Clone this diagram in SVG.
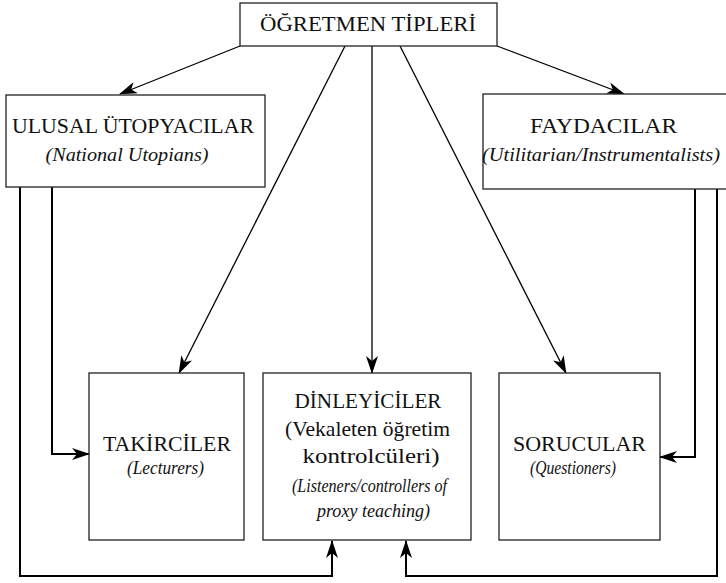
<svg xmlns="http://www.w3.org/2000/svg" width="726" height="583" viewBox="0 0 726 583">
<defs>
<style>
.box{fill:#fff;stroke:#222;stroke-width:1.3}
.t{font-size:22px;fill:#111;text-anchor:middle}
.i{font-size:19px;font-style:italic;fill:#111;text-anchor:middle}
.c{fill:none;stroke:#000;stroke-width:1.3}
.cb{fill:none;stroke:#000;stroke-width:2}
</style>
<marker id="ah" viewBox="0 0 18 12" refX="17" refY="6" markerWidth="18" markerHeight="12" markerUnits="userSpaceOnUse" orient="auto">
<path d="M0,0 L18,6 L0,12 L5,6 Z" fill="#000"/>
</marker>
</defs>
<g id="connectors">
<line class="c" x1="240" y1="46" x2="120" y2="94" marker-end="url(#ah)"/>
<line class="c" x1="497" y1="46" x2="624" y2="94" marker-end="url(#ah)"/>
<line class="c" x1="345" y1="46" x2="179" y2="373" marker-end="url(#ah)"/>
<line class="c" x1="372" y1="46" x2="372" y2="373" marker-end="url(#ah)"/>
<line class="c" x1="400" y1="46" x2="566" y2="373" marker-end="url(#ah)"/>
<polyline class="cb" points="52,187 52,454 89,454" marker-end="url(#ah)"/>
<polyline class="cb" points="695,189 695,457 660,457" marker-end="url(#ah)"/>
<polyline class="cb" points="20,187 20,576 332,576 332,541" marker-end="url(#ah)"/>
<polyline class="cb" points="717,189 717,576 406,576 406,541" marker-end="url(#ah)"/>
</g>
<g id="n-top">
<rect class="box" x="240" y="3" width="257" height="43"/>
<text class="t" font-family="Liberation Serif" x="368" y="31" textLength="216" lengthAdjust="spacingAndGlyphs">ÖĞRETMEN TİPLERİ</text>
</g>
<g id="n-ulusal">
<rect class="box" x="6" y="95" width="259" height="92"/>
<text class="t" font-family="Liberation Serif" x="133" y="133" textLength="242" lengthAdjust="spacingAndGlyphs">ULUSAL ÜTOPYACILAR</text>
<text class="i" font-family="Liberation Serif" x="127" y="161" textLength="163" lengthAdjust="spacingAndGlyphs">(National Utopians)</text>
</g>
<g id="n-faydacilar">
<rect class="box" x="483" y="94" width="250" height="95"/>
<text class="t" font-family="Liberation Serif" x="603.5" y="133" textLength="147" lengthAdjust="spacingAndGlyphs">FAYDACILAR</text>
<text class="i" font-family="Liberation Serif" x="601" y="161" textLength="238" lengthAdjust="spacingAndGlyphs">(Utilitarian/Instrumentalists)</text>
</g>
<g id="n-takirciler">
<rect class="box" x="89" y="373" width="155" height="167"/>
<text class="t" font-family="Liberation Serif" x="167" y="451" textLength="128" lengthAdjust="spacingAndGlyphs">TAKİRCİLER</text>
<text class="i" font-family="Liberation Serif" x="165.5" y="474" textLength="77" lengthAdjust="spacingAndGlyphs">(Lecturers)</text>
</g>
<g id="n-dinleyiciler">
<rect class="box" x="263" y="373" width="208" height="167"/>
<text class="t" font-family="Liberation Serif" x="368" y="408" textLength="147" lengthAdjust="spacingAndGlyphs">DİNLEYİCİLER</text>
<text class="t" font-family="Liberation Serif" x="367.5" y="436" textLength="165" lengthAdjust="spacingAndGlyphs">(Vekaleten öğretim</text>
<text class="t" font-family="Liberation Serif" x="371" y="463" textLength="137" lengthAdjust="spacingAndGlyphs">kontrolcüleri)</text>
<text class="i" font-family="Liberation Serif" x="369.5" y="492" font-size="17" textLength="155" lengthAdjust="spacingAndGlyphs">(Listeners/controllers of</text>
<text class="i" font-family="Liberation Serif" x="373.5" y="517" font-size="17" textLength="113" lengthAdjust="spacingAndGlyphs">proxy teaching)</text>
</g>
<g id="n-sorucular">
<rect class="box" x="499" y="373" width="161" height="167"/>
<text class="t" font-family="Liberation Serif" x="579.5" y="451" textLength="133" lengthAdjust="spacingAndGlyphs">SORUCULAR</text>
<text class="i" font-family="Liberation Serif" x="573" y="474" textLength="86" lengthAdjust="spacingAndGlyphs">(Questioners)</text>
</g>
</svg>
